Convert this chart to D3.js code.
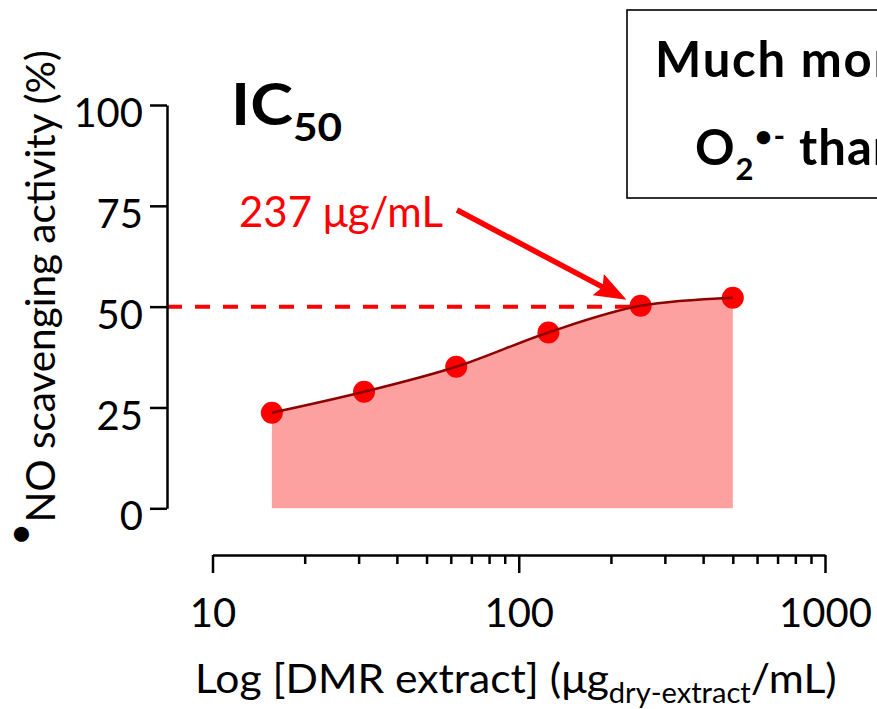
<!DOCTYPE html>
<html>
<head>
<meta charset="utf-8">
<script src="https://cdn.jsdelivr.net/npm/d3@7"></script>
<style>
  html, body { margin: 0; padding: 0; background: #fff; overflow: hidden; }
  svg { display: block; font-family: Lato, "Open Sans", sans-serif; }
</style>
</head>
<body>
<svg id="chart" width="877" height="709"></svg>
<script>
// Dilution series (µg dry extract / mL) and •NO scavenging response (%)
const concentrations = [15.625, 31.25, 62.5, 125, 250, 500];
const scavenging = [23.7, 28.9, 35.1, 43.6, 50.2, 52.2];
const ic50Value = 237;
const halfEffect = 50;
const yTickValues = [0, 25, 50, 75, 100];
const xMajorTicks = [10, 100, 1000];
const xMinorTicks = [20, 30, 40, 50, 60, 70, 80, 90, 200, 300, 400, 500, 600, 700, 800, 900];

const RED = "#ff0000";
const FIT = "#8e0000";
const FILL = "#fda0a0";

const svg = d3.select("#chart");
const axisLeftX = 167;
const axisBottomY = 555;

const x = d3.scaleLog().domain([10, 1000]).range([212.5, 825]);
const y = d3.scaleLinear().domain([0, 100]).range([508.3, 105]);

const data = concentrations.map((c, i) => ({ c, v: scavenging[i] }));

// stretch a text node horizontally so that it spans the requested width
function fitWidth(textSel, width) {
  const w = textSel.node().getBBox().width;
  textSel.attr("transform", `scale(${width / w},1)`);
}

// shaded area under the response curve
const area = d3.area()
  .x(d => x(d.c))
  .y0(y(0))
  .y1(d => y(d.v))
  .curve(d3.curveMonotoneX);
svg.append("path").datum(data)
  .attr("d", area)
  .attr("fill", FILL);

// 50 % reference line up to the IC50
svg.append("line")
  .attr("x1", axisLeftX).attr("x2", x(ic50Value))
  .attr("y1", y(halfEffect)).attr("y2", y(halfEffect))
  .attr("stroke", RED).attr("stroke-width", 4)
  .attr("stroke-dasharray", "15 13");

// measured points
svg.append("g").selectAll("circle").data(data).join("circle")
  .attr("cx", d => x(d.c))
  .attr("cy", d => y(d.v))
  .attr("r", 11)
  .attr("fill", RED);

// fitted curve
const line = d3.line()
  .x(d => x(d.c))
  .y(d => y(d.v))
  .curve(d3.curveMonotoneX);
svg.append("path").datum(data)
  .attr("d", line)
  .attr("fill", "none")
  .attr("stroke", FIT)
  .attr("stroke-width", 2.5);

// y axis
const gy = svg.append("g")
  .attr("transform", `translate(${axisLeftX},0)`)
  .call(d3.axisLeft(y).tickValues(yTickValues).tickSize(17).tickSizeOuter(0).tickPadding(7));
gy.attr("font-family", null).attr("font-size", 40);
gy.select(".domain").attr("stroke", "#000").attr("stroke-width", 2.5);
gy.selectAll(".tick line").attr("stroke", "#000").attr("stroke-width", 2.5);
gy.selectAll(".tick text").attr("fill", "#000").attr("dy", "0.54em");

// x axis (log, with minor ticks)
const gx = svg.append("g")
  .attr("transform", `translate(0,${axisBottomY})`)
  .call(d3.axisBottom(x)
    .tickValues([...xMajorTicks, ...xMinorTicks])
    .tickSize(18).tickSizeOuter(0)
    .tickFormat(d => xMajorTicks.includes(d) ? String(d) : ""));
gx.attr("font-family", null).attr("font-size", 40);
gx.select(".domain").attr("stroke", "#000").attr("stroke-width", 2.5);
gx.selectAll(".tick line").attr("stroke", "#000").attr("stroke-width", 2.5);
gx.selectAll(".tick").filter(d => !xMajorTicks.includes(d)).select("line").attr("y2", 9);
gx.selectAll(".tick text").attr("fill", "#000").attr("y", 72).attr("dy", null);

// y axis title
const yTitleG = svg.append("g").attr("transform", "translate(55,546) rotate(-90)");
const yTitle = yTitleG.append("text").attr("font-size", 41).attr("fill", "#000");
yTitle.append("tspan").attr("dy", -21).text("•");
yTitle.append("tspan").attr("dy", 21).text("NO scavenging activity (%)");
fitWidth(yTitle, 496);

// x axis title
const xTitleG = svg.append("g").attr("transform", "translate(195,693)");
const xTitle = xTitleG.append("text").attr("font-size", 41).attr("fill", "#000");
xTitle.append("tspan").text("Log [DMR extract] (μg");
xTitle.append("tspan").attr("font-size", 28).attr("dy", 10).text("dry-extract");
xTitle.append("tspan").attr("dy", -10).text("/mL)");
fitWidth(xTitle, 642);

// IC50 heading
const icG = svg.append("g").attr("transform", "translate(231,125)");
const icText = icG.append("text").attr("font-weight", 700).attr("font-size", 58).attr("fill", "#000");
icText.append("tspan").text("IC");
icText.append("tspan").attr("font-size", 38).attr("dy", 16).text("50");
fitWidth(icText, 111);

// IC50 value label
const valG = svg.append("g").attr("transform", "translate(239,227)");
const valText = valG.append("text").attr("font-size", 42).attr("fill", RED)
  .text(`${ic50Value} μg/mL`);
fitWidth(valText, 204);

// arrow pointing at the IC50 on the curve
const tail = [457, 210];
const tip = [x(ic50Value) - 7, y(halfEffect) - 7];
const ang = Math.atan2(tip[1] - tail[1], tip[0] - tail[0]);
const headLen = 27, headHalf = 12;
const base = [tip[0] - headLen * Math.cos(ang), tip[1] - headLen * Math.sin(ang)];
svg.append("line")
  .attr("x1", tail[0]).attr("y1", tail[1])
  .attr("x2", base[0] + 4 * Math.cos(ang)).attr("y2", base[1] + 4 * Math.sin(ang))
  .attr("stroke", RED).attr("stroke-width", 5.5);
svg.append("path")
  .attr("d", d3.line()([
    tip,
    [base[0] + headHalf * Math.sin(ang) - 5 * Math.cos(ang), base[1] - headHalf * Math.cos(ang) - 5 * Math.sin(ang)],
    base,
    [base[0] - headHalf * Math.sin(ang) - 5 * Math.cos(ang), base[1] + headHalf * Math.cos(ang) - 5 * Math.sin(ang)]
  ]) + "Z")
  .attr("fill", RED);

// comparison note box (runs past the right edge of the figure)
const note = svg.append("g");
note.append("rect")
  .attr("x", 627).attr("y", 10).attr("width", 420).attr("height", 188)
  .attr("fill", "#fff").attr("stroke", "#000").attr("stroke-width", 1.6);
note.append("text")
  .attr("x", 655).attr("y", 77)
  .attr("font-weight", 700).attr("font-size", 49).attr("letter-spacing", 1.8).attr("fill", "#000")
  .text("Much more potent");
const l2 = note.append("text")
  .attr("x", 695).attr("y", 165)
  .attr("font-weight", 700).attr("font-size", 49).attr("letter-spacing", 1).attr("fill", "#000");
l2.append("tspan").text("O");
l2.append("tspan").attr("font-size", 31).attr("dy", 15).text("2");
l2.append("tspan").attr("font-size", 31).attr("dy", -33).text("•-");
l2.append("tspan").attr("dy", 18).text(" than •NO");
</script>
</body>
</html>
